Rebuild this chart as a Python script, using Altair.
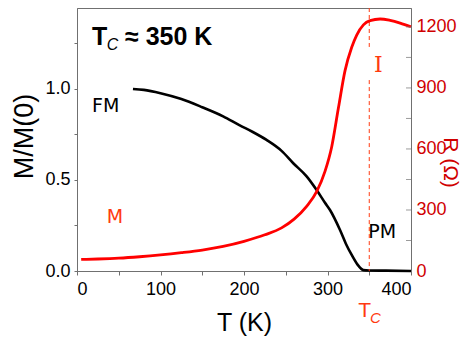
import altair as alt
import pandas as pd

# ---- data ----
T_M = [67, 80, 100, 125, 150, 175, 195, 210, 227, 245, 259, 275, 287, 297, 303,
       315, 322, 329, 336, 343, 350, 370, 400]
M_vals = [1.0, 0.995, 0.977, 0.945, 0.90, 0.85, 0.80, 0.765, 0.72, 0.66, 0.592,
          0.52, 0.445, 0.375, 0.335, 0.225, 0.15, 0.088, 0.035, 0.005, 0.003, 0.002, 0.0]

T_R = [5, 25, 50, 75, 100, 125, 150, 175, 200, 225, 245, 260, 275, 287, 297, 305,
       313, 321, 329, 335, 343, 351, 363, 375, 387, 400]
R_vals = [57, 59, 63, 70, 79, 90, 103, 121, 146, 178, 212, 255, 318, 390, 490, 610,
          800, 985, 1100, 1160, 1210, 1231, 1239, 1232, 1219, 1201]

x_ticks = [0, 50, 100, 150, 200, 250, 300, 350, 400]
m_ticks = [0, 0.25, 0.5, 0.75, 1.0, 1.25]
r_ticks = [0, 300, 600, 900, 1200]
r_minor = [150, 300, 450, 600, 750, 900, 1050, 1200]

TC = 350
X_DOM = [0, 400]
M_DOM = [0, 1.445]
R_DOM = [0, 1293]

ORANGE = "#ff3a10"
DARKRED = "#d00000"
GRAY = "#707070"

dfM = pd.DataFrame({"T": T_M, "M": M_vals})
dfR = pd.DataFrame({"T": T_R, "R": R_vals})
dfTick = pd.DataFrame({"T": [400] * len(r_minor), "R": r_minor})
dfRule = pd.DataFrame({"T": [TC, TC], "y1": [1.445, 1.049], "y2": [1.231, 0.0]})

xs = alt.Scale(domain=X_DOM, nice=False, zero=False)
ms = alt.Scale(domain=M_DOM, nice=False, zero=False)
rs = alt.Scale(domain=R_DOM, nice=False, zero=False)

x_axis = alt.Axis(values=x_ticks, labelExpr="datum.value % 100 == 0 ? datum.label : ''",
                  tickSize=4, labelPadding=5, title="T (K)", titleFontSize=25,
                  titleFontWeight="normal", titleX=167, titleY=59,
                  titleBaseline="alphabetic", titleAlign="center")
m_axis = alt.Axis(values=m_ticks, format=".1f",
                  labelExpr="(datum.value * 100) % 50 == 0 ? datum.label : ''",
                  tickSize=3, labelPadding=4, title="M/M(0)", titleFontSize=27,
                  titleFontWeight="normal", titleX=-53, titleY=128, titleAngle=270,
                  titleBaseline="middle", titleAlign="center")
r_axis = alt.Axis(values=r_ticks, format="d", orient="right", ticks=False, labelPadding=5,
                  labelColor=DARKRED, title="R (Ω)", titleColor=DARKRED,
                  titleFontSize=21, titleFontWeight="normal", titleAngle=90,
                  titleX=38, titleY=154, titleBaseline="middle", titleAlign="center")

X = lambda f="T:Q": alt.X(f, scale=xs, axis=x_axis)
YM = lambda f: alt.Y(f, scale=ms, axis=m_axis)
YR = lambda f: alt.Y(f, scale=rs, axis=r_axis)

m_line = alt.Chart(dfM).mark_line(color="black", strokeWidth=2.6,
                                  interpolate="monotone").encode(x=X(), y=YM("M:Q"))

rule = alt.Chart(dfRule).mark_rule(color=ORANGE, strokeWidth=1, strokeDash=[4, 3]).encode(
    x=X(), y=YM("y1:Q"), y2="y2:Q",
)


def label(txt, t, m, color="black", size=19, weight="normal", style="normal",
          font="DejaVu Sans", align="left"):
    d = pd.DataFrame({"T": [t], "M": [m], "txt": [txt]})
    return alt.Chart(d).mark_text(
        align=align, baseline="alphabetic", color=color, fontSize=size,
        fontWeight=weight, fontStyle=style, font=font,
    ).encode(x=X(), y=YM("M:Q"), text="txt:N")


labels = [
    label("T", 18, 1.242, size=25, weight="bold", font="Liberation Sans"),
    label("C", 35.5, 1.214, size=16, style="italic", font="Liberation Sans"),
    label("≈ 350 K", 57.5, 1.242, size=25, weight="bold", font="Liberation Sans"),
    label("FM", 18, 0.874),
    label("M", 35.5, 0.265, color=ORANGE),
    label("PM", 348.9, 0.18),
    label("I", 360.8, 1.095, color=ORANGE, size=22, font="DejaVu Serif", align="center"),
    label("T", 336.9, -0.251, color=ORANGE, size=21, font="Liberation Sans"),
    label("C", 350.9, -0.287, color=ORANGE, size=15, style="italic", font="Liberation Sans"),
]

left = alt.layer(m_line, rule, *labels)

r_line = alt.Chart(dfR).mark_line(color="#ff0000", strokeWidth=2.8,
                                  interpolate="monotone").encode(x=X(), y=YR("R:Q"))
r_tk = alt.Chart(dfTick).mark_tick(orient="horizontal", size=5, thickness=1,
                                   color=GRAY, xOffset=-2.5).encode(x=X(), y=YR("R:Q"))
right = alt.layer(r_line, r_tk)

chart = alt.layer(left, right).resolve_scale(y="independent").properties(
    width=334, height=263,
    autosize=alt.AutoSizeParams(type="none"),
    padding={"left": 69, "top": 0, "right": 52, "bottom": 66},
).configure_view(stroke=GRAY, strokeWidth=1).configure_axis(
    grid=False, domainColor=GRAY, tickColor=GRAY, labelFont="Liberation Sans",
    labelFontSize=18, labelColor="black", titleFont="Liberation Sans",
    titleColor="black",
)

chart.save("out.html", embed_options={"renderer": "svg", "actions": False})
